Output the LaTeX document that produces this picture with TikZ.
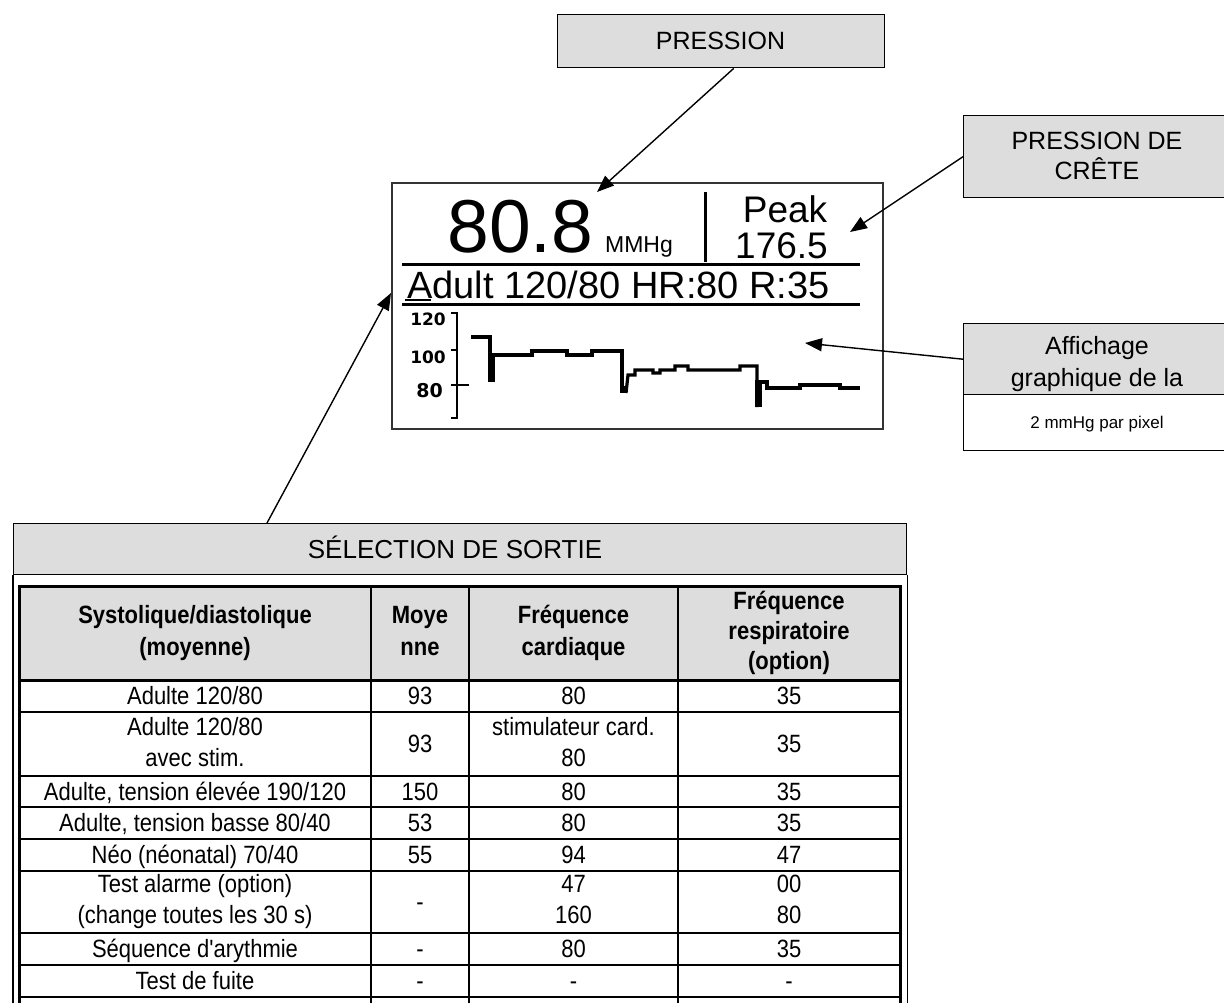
\documentclass[tikz,border=0pt]{standalone}
\usepackage{fontspec}
\setmainfont{Liberation Sans}
\newfontfamily\tabfont[FakeStretch=0.88]{Liberation Sans}
\newfontfamily\lcdfont{Liberation Sans}
\newfontfamily\lcdbold{DejaVu Sans}
\usetikzlibrary{arrows.meta,calc}
\definecolor{boxgray}{RGB}{221,221,221}
\newcommand\cstrut{\rule[-0.2em]{0pt}{1.116em}}
\begin{document}
\begin{tikzpicture}[x=1pt,y=-1pt,line join=miter,
  callbox/.style={draw=black,line width=1.4pt,fill=boxgray,inner sep=0pt,anchor=north west},
  txt/.style={inner sep=0pt,align=center,execute at begin node=\cstrut,execute at end node=\cstrut},
  callfont/.style={font=\fontsize{25}{31}\selectfont},
  cell/.style={txt,font=\tabfont\fontsize{25}{31}\selectfont},
  hcell/.style={txt,font=\tabfont\bfseries\fontsize{25}{32}\selectfont},
  arrowline/.style={line width=1.4pt,-{Triangle[length=17pt,width=13pt]}},
  tabthick/.style={line width=3pt},
  tabthin/.style={line width=2pt},
  lcdline/.style={line width=3pt},
  wave/.style={line width=3.2pt},
  lcdtxt/.style={inner sep=0pt,anchor=base}]
\useasboundingbox (0,0) rectangle (1224,1002);
\fill[white] (0,0) rectangle (1224,1002);
\clip (0,0) rectangle (1224,1002);

% ---------- callout boxes ----------
\node[callbox,minimum width=327pt,minimum height=53pt] (pbox) at (557,14) {};
\node[txt,callfont] (ptext) at (720.5,40.5) {PRESSION};

\node[callbox,minimum width=269pt,minimum height=82pt] (cbox) at (963,115) {};
\node[txt,font=\fontsize{25}{30}\selectfont] (ctext) at (1097,158) {PRESSION DE\\CRÊTE};

\node[callbox,minimum width=269pt,minimum height=71pt] (abox) at (963,323) {};
\node[txt,font=\fontsize{25}{32}\selectfont] (atext) at (1097,364) {Affichage\\graphique de la};
\node[callbox,fill=white,minimum width=269pt,minimum height=56pt] (mbox) at (963,394) {};
\node[txt,font=\fontsize{17}{20}\selectfont] (mtext) at (1097,422) {2 mmHg par pixel};

% ---------- LCD display ----------
\node[draw=black!80,line width=2pt,minimum width=491pt,minimum height=246pt,inner sep=0pt,anchor=north west] (lcd) at (391,182) {};
\draw[lcdline] (402,264) -- (860,264);
\draw[lcdline] (402,304) -- (860,304);
\draw[lcdline] (705,192) -- (705,262);
\node[lcdtxt,font=\lcdfont\fontsize{75}{75}\selectfont] (big) at (520.5,252) {80.8};
\node[lcdtxt,font=\lcdfont\fontsize{23}{23}\selectfont] (unit) at (639,252) {MMHg};
\node[lcdtxt,font=\lcdfont\fontsize{37}{37}\selectfont] (peak) at (785,222) {Peak};
\node[lcdtxt,font=\lcdfont\fontsize{37}{37}\selectfont] (peakval) at (781.5,258) {176.5};
\node[lcdtxt,font=\lcdfont\fontsize{38}{38}\selectfont] (status) at (618.5,298) {Adult 120/80 HR:80 R:35};
\draw[line width=2pt] (405,300) -- (431,300);
\node[lcdtxt,anchor=base east,font=\lcdbold\bfseries\fontsize{17}{17}\selectfont] (s120) at (446,325) {120};
\node[lcdtxt,anchor=base east,font=\lcdbold\bfseries\fontsize{17}{17}\selectfont] (s100) at (446,363) {100};
\node[lcdtxt,anchor=base east,font=\lcdbold\bfseries\fontsize{19}{19}\selectfont] (s80) at (443,397) {80};
\draw[line width=2.5pt] (451,313) -- (457,313) -- (457,418) -- (451,418);
\draw[line width=2.5pt] (451,350) -- (457,350);
\draw[line width=2.5pt] (451,385) -- (469,385);
% waveform
\draw[wave] (471,337) -- (490,337) -- (490,382);
\fill (488,353) rectangle (495,382);
\draw[wave] (490,355) -- (532,355) -- (532,351) -- (567,351) -- (567,355) -- (592,355) -- (592,351) -- (622,351) -- (622,393);
\fill (620,386) rectangle (627,393);
\draw[wave] (626,393) -- (628,375) -- (635,375) -- (635,370) -- (653,370) -- (653,373) -- (660,373) -- (660,370) -- (675,370) -- (675,366) -- (688,366) -- (688,370) -- (740,370) -- (740,366) -- (757,366) -- (757,407);
\fill (755,380) rectangle (762,407);
\draw[wave] (760,382) -- (767,382) -- (767,388) -- (800,388) -- (800,385) -- (840,385) -- (840,388) -- (860,388);

% ---------- selection frame and table ----------
\node[callbox,minimum width=893pt,minimum height=51pt] (selband) at (13,523) {};
\node[txt,font=\fontsize{26}{31}\selectfont] (seltext) at (455,549) {SÉLECTION DE SORTIE};
\draw[line width=1.4pt] (selband.south west) -- ++(0,500);
\draw[line width=1.4pt] (selband.south east) -- ++(0,500);

\fill[boxgray] (19,586) rectangle (900,680);
\foreach \yy in {712,776,807,839,871,933,965,997}
  \draw[tabthin] (19,\yy) -- (900,\yy);
\foreach \xx in {371,469,678}
  \draw[tabthin] (\xx,586) -- (\xx,1010);
\draw[tabthick] (19,680) -- (900,680);
\draw[tabthick] (19,1010) -- (19,586) -- (900,586) -- (900,1010);

% header
\node[hcell] (h1) at (195,633) {Systolique/diastolique\\(moyenne)};
\node[hcell] (h2) at (420,633) {Moye\\nne};
\node[hcell] (h3) at (573.5,633) {Fréquence\\cardiaque};
\node[hcell,font=\tabfont\bfseries\fontsize{25}{30}\selectfont] (h4) at (789,633) {Fréquence\\respiratoire\\(option)};

% rows
\node[cell] (r1a) at (195,696) {Adulte 120/80};
\node[cell] (r1b) at (420,696) {93};
\node[cell] (r1c) at (573.5,696) {80};
\node[cell] (r1d) at (789,696) {35};

\node[cell] (r2a) at (195,744) {Adulte 120/80\\avec stim.};
\node[cell] (r2b) at (420,744) {93};
\node[cell] (r2c) at (573.5,744) {stimulateur card.\\80};
\node[cell] (r2d) at (789,744) {35};

\node[cell] (r3a) at (195,791.5) {Adulte, tension élevée 190/120};
\node[cell] (r3b) at (420,791.5) {150};
\node[cell] (r3c) at (573.5,791.5) {80};
\node[cell] (r3d) at (789,791.5) {35};

\node[cell] (r4a) at (195,823) {Adulte, tension basse 80/40};
\node[cell] (r4b) at (420,823) {53};
\node[cell] (r4c) at (573.5,823) {80};
\node[cell] (r4d) at (789,823) {35};

\node[cell] (r5a) at (195,855) {Néo (néonatal) 70/40};
\node[cell] (r5b) at (420,855) {55};
\node[cell] (r5c) at (573.5,855) {94};
\node[cell] (r5d) at (789,855) {47};

\node[cell] (r6a) at (195,902) {Test alarme (option)\\(change toutes les 30 s)};
\node[cell] (r6b) at (420,902) {-};
\node[cell] (r6c) at (573.5,902) {47\\160};
\node[cell] (r6d) at (789,902) {00\\80};

\node[cell] (r7a) at (195,949) {Séquence d'arythmie};
\node[cell] (r7b) at (420,949) {-};
\node[cell] (r7c) at (573.5,949) {80};
\node[cell] (r7d) at (789,949) {35};

\node[cell] (r8a) at (195,981) {Test de fuite};
\node[cell] (r8b) at (420,981) {-};
\node[cell] (r8c) at (573.5,981) {-};
\node[cell] (r8d) at (789,981) {-};

% ---------- connectors ----------
\coordinate (tipP) at (597,192);
\coordinate (tipC) at (850,232);
\coordinate (tipA) at (805,343);
\draw[arrowline] ([xshift=12.5pt]pbox.south) -- (tipP);
\draw[arrowline] (cbox.west) -- (tipC);
\draw[arrowline] (abox.west) -- (tipA);
\draw[arrowline] ($(selband.north west)+(254,0)$) -- ($(lcd.west)+(0,-13)$);
\end{tikzpicture}
\end{document}
